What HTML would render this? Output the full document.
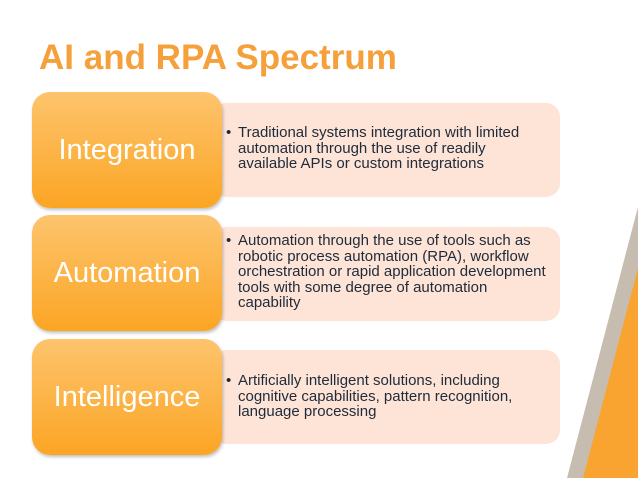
<!DOCTYPE html>
<html><head><style>
body{margin:0;width:638px;height:479px;background:#fff;position:relative;overflow:hidden;font-family:"Liberation Sans",sans-serif}
.t{position:absolute;left:39px;top:38px;font-size:35px;font-weight:bold;color:#f5a03a}
.o{position:absolute;left:32px;width:190px;height:116px;border-radius:18px;background:linear-gradient(#fdc46d,#fca524);box-shadow:1px 2px 3px rgba(0,0,0,.25);color:#fff;font-size:29px;display:flex;align-items:center;justify-content:center;z-index:2}
.p{position:absolute;left:212px;width:348px;height:94px;border-radius:14px;background:#fde4d6;z-index:1}
.p ul{margin:0;padding:0 0 0 26px;width:309px;font-size:15px;line-height:15.5px;color:#1f2a3a}
.p li{list-style:none;position:relative}
.p li:before{content:"•";position:absolute;left:-12px}
</style></head><body>
<svg width="638" height="479" style="position:absolute;left:0;top:0">
<polygon points="638,207 638,478 567,478" fill="#c7bcb0"/>
<polygon points="638,268 638,478 583,478" fill="#f9a431"/>
</svg>
<div class="t">AI and RPA Spectrum</div>
<div class="o" style="top:92px">Integration</div>
<div class="p" style="top:103px"><ul style="margin-top:22px"><li>Traditional systems integration with limited automation through the use of readily available APIs or custom integrations</li></ul></div>
<div class="o" style="top:215px">Automation</div>
<div class="p" style="top:227px"><ul style="margin-top:6px"><li>Automation through the use of tools such as robotic process automation (RPA), workflow orchestration or rapid application development tools with some degree of automation capability</li></ul></div>
<div class="o" style="top:339px">Intelligence</div>
<div class="p" style="top:350px"><ul style="margin-top:23px"><li>Artificially intelligent solutions, including cognitive capabilities, pattern recognition, language processing</li></ul></div>
</body></html>
